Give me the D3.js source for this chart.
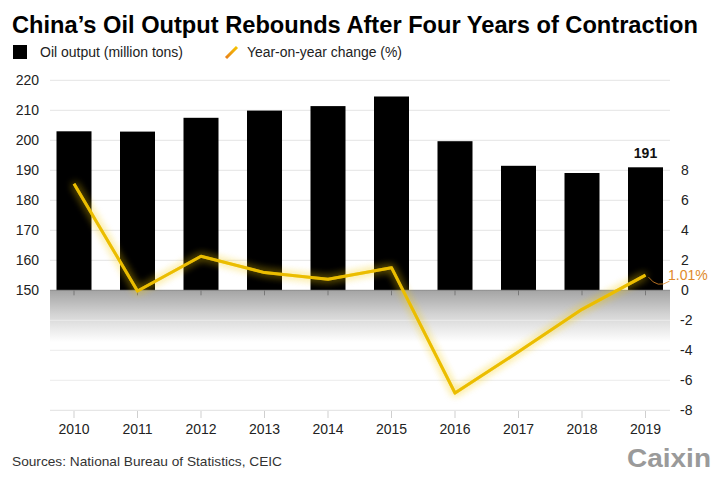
<!DOCTYPE html>
<html>
<head>
<meta charset="utf-8">
<script src="https://cdn.jsdelivr.net/npm/d3@7"></script>
<style>
  html, body { margin: 0; padding: 0; background: #fff; }
  svg { display: block; font-family: "Liberation Sans", Arial, Helvetica, sans-serif; }
</style>
</head>
<body>
<svg id="chart" width="715" height="481"></svg>
<script>
const years = ["2010","2011","2012","2013","2014","2015","2016","2017","2018","2019"];
const output = [203.0, 202.9, 207.5, 209.9, 211.4, 214.6, 199.7, 191.5, 189.1, 191.0];
const yoy = [7.1, -0.05, 2.27, 1.18, 0.73, 1.51, -6.85, -4.1, -1.27, 1.01];
const leftTicks = [150, 160, 170, 180, 190, 200, 210, 220];
const rightTicks = [8, 6, 4, 2, 0, -2, -4, -6, -8];

const svg = d3.select("#chart");
const plotL = 50, plotR = 670;

const x = d3.scalePoint().domain(years).range([74, 645.5]);
const yL = d3.scaleLinear().domain([150, 220]).range([290.3, 80.3]);
const yR = d3.scaleLinear().domain([-8, 8]).range([410.3, 170.3]);

const defs = svg.append("defs");
const grad = defs.append("linearGradient").attr("id", "band").attr("x1", 0).attr("y1", 0).attr("x2", 0).attr("y2", 1);
grad.append("stop").attr("offset", "0%").attr("stop-color", "#a4a4a4");
grad.append("stop").attr("offset", "45%").attr("stop-color", "#d2d2d2");
grad.append("stop").attr("offset", "100%").attr("stop-color", "#ffffff");

const glow = defs.append("filter").attr("id", "glow").attr("x", "-20%").attr("y", "-20%").attr("width", "140%").attr("height", "140%");
glow.append("feGaussianBlur").attr("in", "SourceGraphic").attr("stdDeviation", 4).attr("result", "blur");
const merge = glow.append("feMerge");
merge.append("feMergeNode").attr("in", "blur");
merge.append("feMergeNode").attr("in", "blur");
merge.append("feMergeNode").attr("in", "SourceGraphic");

// Title: condensed bold, fitted to the reference width
const title = svg.append("text")
  .attr("x", 12).attr("y", 33)
  .attr("font-family", "'Liberation Sans Narrow', 'Liberation Sans', Arial, sans-serif")
  .attr("font-size", 27).attr("font-weight", "bold").attr("fill", "#000")
  .text("China\u2019s Oil Output Rebounds After Four Years of Contraction");
let tw = title.node().getComputedTextLength();
if (tw > 690) {
  title.attr("font-size", 27 * 684 / tw);
  tw = title.node().getComputedTextLength();
}
if (Math.abs(tw - 686) > 2 && tw < 690) {
  title.attr("textLength", 686).attr("lengthAdjust", "spacingAndGlyphs");
}

// Legend
svg.append("rect").attr("x", 13).attr("y", 45).attr("width", 14).attr("height", 14).attr("fill", "#000");
svg.append("text").attr("x", 40).attr("y", 57).attr("font-size", 14).attr("fill", "#222")
  .attr("textLength", 143).attr("lengthAdjust", "spacingAndGlyphs")
  .text("Oil output (million tons)");
const lg = defs.append("linearGradient").attr("id", "lg").attr("x1", 0).attr("y1", 1).attr("x2", 1).attr("y2", 0);
lg.append("stop").attr("offset", "0%").attr("stop-color", "#e8801a");
lg.append("stop").attr("offset", "100%").attr("stop-color", "#f5c400");
svg.append("line").attr("x1", 226).attr("y1", 58).attr("x2", 237).attr("y2", 47)
  .attr("stroke", "url(#lg)").attr("stroke-width", 3);
svg.append("text").attr("x", 247).attr("y", 57).attr("font-size", 14).attr("fill", "#222")
  .attr("textLength", 155).attr("lengthAdjust", "spacingAndGlyphs")
  .text("Year-on-year change (%)");

// Gray band below zero
svg.append("rect").attr("x", plotL).attr("y", yL(150)).attr("width", plotR - plotL).attr("height", 52)
  .attr("fill", "url(#band)");

// Gridlines
svg.append("g").selectAll("line").data(leftTicks.filter(d => d > 150)).join("line")
  .attr("x1", plotL).attr("x2", plotR).attr("y1", d => yL(d)).attr("y2", d => yL(d))
  .attr("stroke", "#e4e4e4").attr("stroke-width", 1);
svg.append("g").selectAll("line").data(rightTicks.filter(d => d < 0 && d > -8)).join("line")
  .attr("x1", plotL).attr("x2", plotR).attr("y1", d => yR(d)).attr("y2", d => yR(d))
  .attr("stroke", "#ececec").attr("stroke-width", 1);

// Bars
const bw = 35;
svg.append("g").selectAll("rect").data(years).join("rect")
  .attr("x", d => x(d) - bw / 2).attr("width", bw)
  .attr("y", (d, i) => yL(output[i]))
  .attr("height", (d, i) => yL(150) - yL(output[i]))
  .attr("fill", "#000");

// Zero line and ticks
svg.append("line").attr("x1", plotL).attr("x2", plotR).attr("y1", yL(150)).attr("y2", yL(150))
  .attr("stroke", "#8a8a8a").attr("stroke-width", 1);
svg.append("g").selectAll("line").data(years).join("line")
  .attr("x1", d => x(d)).attr("x2", d => x(d)).attr("y1", yL(150)).attr("y2", yL(150) + 5)
  .attr("stroke", "#777").attr("stroke-width", 1);

// Left axis labels
svg.append("g").selectAll("text").data(leftTicks).join("text")
  .attr("x", 39).attr("y", d => yL(d) + 5).attr("text-anchor", "end")
  .attr("font-size", 14).attr("fill", "#222").text(d => d);

// Right axis labels
svg.append("g").selectAll("text").data(rightTicks).join("text")
  .attr("x", d => d < 0 ? 680 : 681).attr("y", d => yR(d) + 5).attr("text-anchor", "start")
  .attr("font-size", 14).attr("fill", "#222").text(d => d);

// Bottom axis
svg.append("line").attr("x1", plotL).attr("x2", plotR).attr("y1", 410.3).attr("y2", 410.3)
  .attr("stroke", "#e0e0e0").attr("stroke-width", 1);
svg.append("g").selectAll("line").data(years).join("line")
  .attr("x1", d => x(d)).attr("x2", d => x(d)).attr("y1", 411).attr("y2", 418)
  .attr("stroke", "#cfcfcf").attr("stroke-width", 1);
svg.append("g").selectAll("text").data(years).join("text")
  .attr("x", d => x(d)).attr("y", 434).attr("text-anchor", "middle")
  .attr("font-size", 14).attr("fill", "#222").text(d => d);

// YoY line with glow
const line = d3.line().x((d, i) => x(years[i])).y(d => yR(d));
svg.append("path").datum(yoy).attr("d", line)
  .attr("fill", "none").attr("stroke", "#f5cc10").attr("stroke-width", 3)
  .attr("stroke-opacity", 0.55).attr("filter", "url(#glow)");
svg.append("path").datum(yoy).attr("d", line)
  .attr("fill", "none").attr("stroke", "#ebbd00").attr("stroke-width", 3)
  .attr("stroke-linejoin", "round");

// Annotation for 2019
const lastX = x(years[9]), lastY = yR(yoy[9]);
svg.append("path")
  .attr("d", `M${lastX + 3},${lastY + 2} Q${lastX + 12},${lastY + 14} ${lastX + 24},${lastY + 6}`)
  .attr("fill", "none").attr("stroke", "#e08a2a").attr("stroke-width", 0.8);
svg.append("text").attr("x", 668).attr("y", 280).attr("font-size", 14).attr("fill", "#e08a2a")
  .text(yoy[9].toFixed(2) + "%");

// Value label 191
svg.append("text").attr("x", lastX).attr("y", yL(output[9]) - 9).attr("text-anchor", "middle")
  .attr("font-size", 14).attr("font-weight", "bold").attr("fill", "#111")
  .text(Math.round(output[9]));

// Source
svg.append("text").attr("x", 12).attr("y", 466).attr("font-size", 13).attr("fill", "#333")
  .attr("textLength", 270).attr("lengthAdjust", "spacingAndGlyphs")
  .text("Sources: National Bureau of Statistics, CEIC");

// Logo
svg.append("text").attr("x", 711).attr("y", 467).attr("text-anchor", "end")
  .attr("font-size", 26).attr("font-weight", "bold").attr("fill", "#9a9a9a")
  .attr("textLength", 84).attr("lengthAdjust", "spacingAndGlyphs")
  .text("Caixin");
</script>
</body>
</html>
